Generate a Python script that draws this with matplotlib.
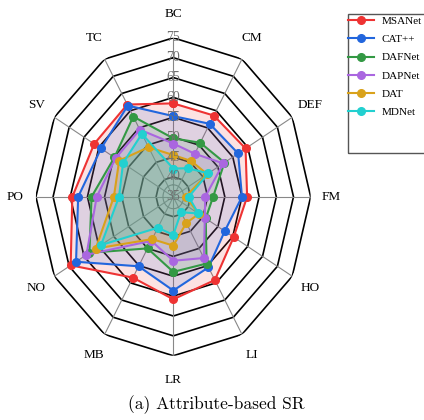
import matplotlib
matplotlib.use("Agg")
import matplotlib.pyplot as plt
from matplotlib.patches import Rectangle
import numpy as np

# 属性ごとのSR値
attrs = ["BC", "CM", "DEF", "FM", "HO", "LI", "LR", "MB", "NO", "PO", "SV", "TC"]
msanet = [58.5, 58.6, 59.3, 56.5, 55.3, 59.2, 60.8, 58.5, 69.5, 64.4, 61.6, 61.8]
catpp = [55.3, 56.2, 56.8, 55.0, 52.3, 55.5, 58.6, 55.2, 67.7, 62.7, 59.3, 61.5]
dafnet = [49.7, 50.7, 52.2, 46.6, 45.9, 54.4, 53.9, 50.0, 63.2, 58.8, 54.8, 58.3]
dapnet = [48.4, 47.5, 51.8, 44.3, 45.6, 52.8, 51.1, 47.8, 64.2, 57.3, 54.4, 54.5]
dat = [45.5, 45.4, 46.4, 38.6, 43.6, 42.6, 47.3, 47.3, 61.1, 52.3, 53.2, 49.4]
mdnet = [42.1, 43.3, 46.8, 39.5, 43.4, 39.5, 44.6, 44.0, 59.3, 50.8, 51.9, 53.3]
rticks = [35, 40, 45, 50, 55, 60, 65, 70, 75]

series = [("MSANet", msanet, "#ee3333", 0.14),
          ("CAT++", catpp, "#2266dd", 0.13),
          ("DAFNet", dafnet, "#339944", 0.12),
          ("DAPNet", dapnet, "#aa66e0", 0.12),
          ("DAT", dat, "#d9a21b", 0.2),
          ("MDNet", mdnet, "#22d0d0", 0.25)]

serif = ["Liberation Serif", "DejaVu Serif"]

fig = plt.figure(figsize=(4.24, 4.20), dpi=100)
ax = fig.add_axes([0.0847, 0.153, 0.648, 0.757], projection="polar")
ax.set_aspect("auto")
ax.set_theta_offset(np.pi / 2)
ax.set_theta_direction(-1)
ax.set_ylim(35, 75)
ax.grid(False)
ax.spines["polar"].set_visible(False)
ax.set_xticks([])
ax.set_yticks([])

n = len(attrs)
ang = np.arange(n) * 2 * np.pi / n
ang_c = np.append(ang, ang[0])

# グリッド（多角形）
for r in rticks[1:]:
    ax.plot(ang_c, [r] * (n + 1), color="black", lw=1.2, zorder=1)
for a in ang:
    ax.plot([a, a], [35, 75], color="#888888", lw=0.8, zorder=1)
t = np.linspace(0, 2 * np.pi, 100)
ax.plot(t, [38] * len(t), color="#777777", lw=0.8, zorder=1)

handles = []
for name, vals, col, al in series:
    v = np.append(vals, vals[0])
    ax.fill(ang_c, v, color=col, alpha=al, lw=0, zorder=2)
    h, = ax.plot(ang_c, v, color=col, lw=1.5, marker="o", ms=5.5, zorder=3, label=name)
    handles.append(h)

for r in rticks:
    ax.text(0, r, str(r), ha="center", va="center", fontsize=10, color="#707070",
            family=serif, zorder=4)

for a, lab in zip(ang, attrs):
    ax.text(a, 81, lab, ha="center", va="center", fontsize=9.5, family=serif,
            clip_on=False)

# 凡例
fig.patches.append(Rectangle((348 / 424, 1 - 153 / 420), 80 / 424, 139 / 420,
                             transform=fig.transFigure, fill=False, ec="#555555", lw=1))
fig.legend(handles=handles, loc="upper left", bbox_to_anchor=(344 / 424, 1 - 12 / 420),
           frameon=False, prop={"family": serif, "size": 8}, handlelength=2.3,
           labelspacing=0.75, handletextpad=0.7, borderaxespad=0)

fig.text(216 / 424, 1 - 405 / 420, "(a) Attribute-based SR", ha="center", va="center",
         fontsize=12.5, family=["cmr10", "DejaVu Serif"])

fig.savefig("out.png", dpi=100)
